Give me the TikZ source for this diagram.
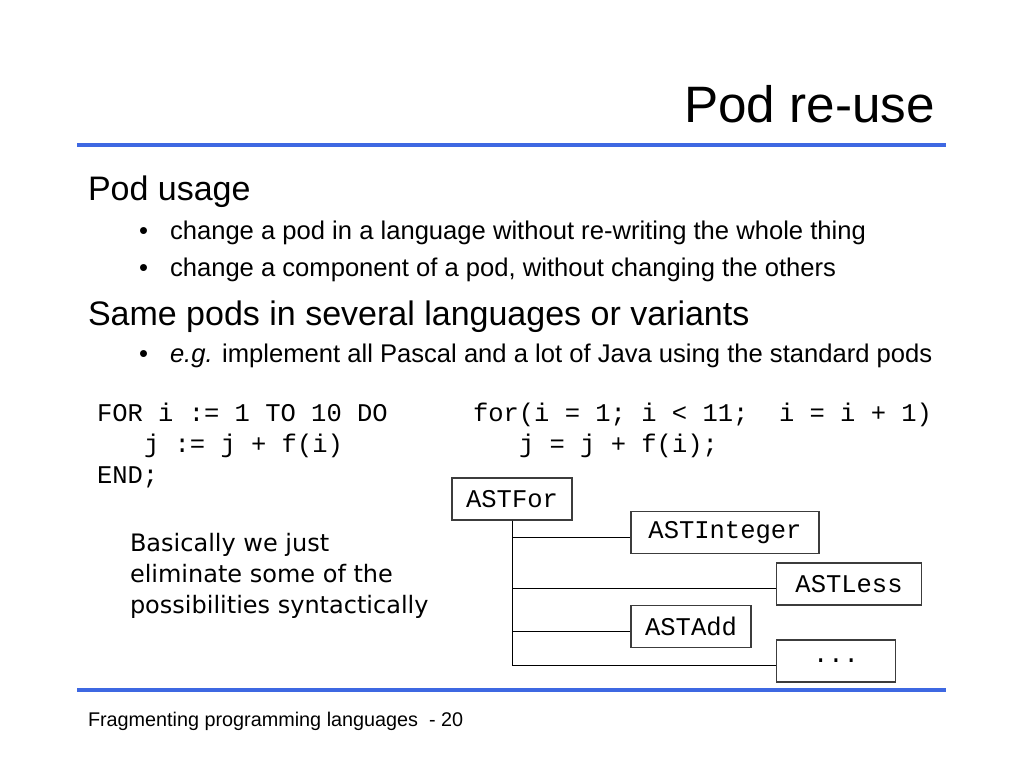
\documentclass[tikz,border=0pt]{standalone}
\usepackage{fontspec}
\setmainfont{Liberation Sans}
\newfontfamily\codefont{Liberation Mono}
\newfontfamily\casualfont{DejaVu Sans}
\definecolor{rule}{RGB}{62,104,226}
\definecolor{boxline}{RGB}{60,60,60}
\tikzset{
  txt/.style={anchor=base west, inner sep=0pt, outer sep=0pt},
  bul/.style={txt, font=\fontsize{25.6}{30}\selectfont},
  code/.style={txt, font=\codefont\fontsize{25.5}{30}\selectfont},
  note/.style={txt, font=\casualfont\fontsize{24}{28}\selectfont},
  astbox/.style={draw=boxline, line width=1.1pt, rectangle, inner sep=0pt,
    minimum height=42pt, font=\codefont\fontsize{25.5}{30}\selectfont},
  branch/.style={draw=black, line width=0.9pt},
  sep/.style={draw=rule, line width=4.5pt},
}
\begin{document}
\begin{tikzpicture}[x=1pt,y=-1pt]
\useasboundingbox[fill=white] (0,0) rectangle (1024,768);
% title
\node[anchor=base east, inner sep=0pt] (title) at (935,122) {\fontsize{51.2}{56}\selectfont Pod re-use};
% rules
\coordinate (r1a) at (77,145); \coordinate (r1b) at (946,145);
\draw[sep] (r1a) -- (r1b);
\coordinate (r2a) at (77,690); \coordinate (r2b) at (946,690);
\draw[sep] (r2a) -- (r2b);
% headings and bullets
\node[txt, font=\fontsize{34}{40}\selectfont] (h1) at (88,200) {Pod usage};
\node[bul] (b1d) at (139,239) {•};
\node[bul] (b1) at (170,239) {change a pod in a language without re-writing the whole thing};
\node[bul] (b2d) at (139,276) {•};
\node[bul] (b2) at (170,276) {change a component of a pod, without changing the others};
\node[txt, font=\fontsize{34}{40}\selectfont] (h2) at (88,325) {Same pods in several languages or variants};
\node[bul] (b3d) at (139,362) {•};
\node[bul] (b3) at (170,362) {\textit{e.g.} implement all Pascal and a lot of Java using the standard pods};
% code
\node[code] (p1) at (97,421) {FOR~i~:=~1~TO~10~DO};
\node[code] (p2) at (144,452) {j~:=~j~+~f(i)};
\node[code] (p3) at (97,483) {END;};
\node[code] (c1) at (473,421) {for(i~=~1;~i~<~11;~~i~=~i~+~1)};
\node[code] (c2) at (519,452) {j~=~j~+~f(i);};
% casual note
\node[note] (n1) at (130,551) {Basically we just};
\node[note] (n2) at (130,582) {eliminate some of the};
\node[note] (n3) at (130,613) {possibilities syntactically};
% AST tree
\node[astbox, minimum width=120pt] (astfor) at (512,499) {ASTFor};
\node[astbox, minimum width=188pt] (astint) at (725,532.5) {ASTInteger};
\node[astbox, minimum width=145pt] (astless) at (849,584) {ASTLess};
\node[astbox, minimum width=120pt] (astadd) at (691,626.5) {ASTAdd};
\node[astbox, minimum width=119pt] (astmore) at (836,661) {...};
\coordinate (trunkend) at (512,665);
\draw[branch] (astfor.south) -- (trunkend);
\draw[branch] (astfor.south) |- ([yshift=-5pt]astint.west);
\draw[branch] (astfor.south) |- ([yshift=-4pt]astless.west);
\draw[branch] (astfor.south) |- ([yshift=-5pt]astadd.west);
\draw[branch] (trunkend) -- ([yshift=-4pt]astmore.west);
% footer
\node[txt, font=\fontsize{19.8}{24}\selectfont] (foot) at (88,726) {Fragmenting programming languages~~- 20};
\end{tikzpicture}
\end{document}
